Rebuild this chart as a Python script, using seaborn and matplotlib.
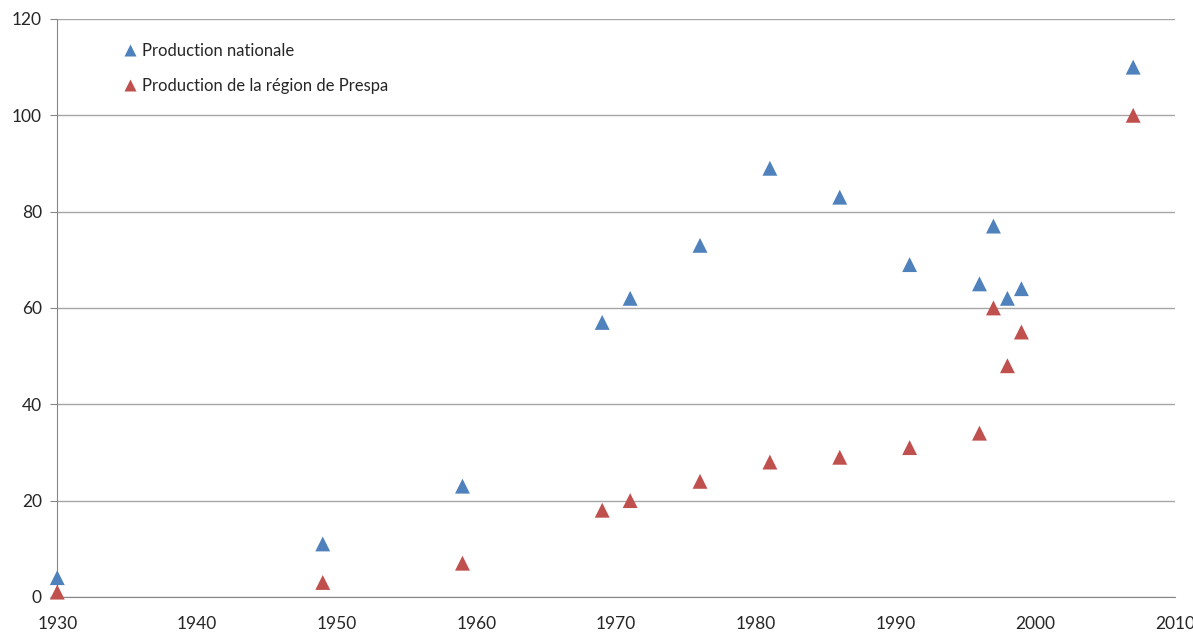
import pandas as pd
import matplotlib
matplotlib.use("Agg")
import matplotlib.pyplot as plt
import seaborn as sns

years = [1930, 1949, 1959, 1969, 1971, 1976, 1981, 1986, 1991, 1996, 1997, 1998, 1999, 2007]
nationale = [4, 11, 23, 57, 62, 73, 89, 83, 69, 65, 77, 62, 64, 110]
prespa = [1, 3, 7, 18, 20, 24, 28, 29, 31, 34, 60, 48, 55, 100]
labels = ["Production nationale", "Production de la région de Prespa"]

df = pd.concat([
    pd.DataFrame({"annee": years, "valeur": nationale, "serie": labels[0]}),
    pd.DataFrame({"annee": years, "valeur": prespa, "serie": labels[1]}),
])

sns.set_style("white")
plt.rcParams["font.family"] = ["Lato", "DejaVu Sans"]

fig, ax = plt.subplots(figsize=(11.93, 6.33), dpi=100)
fig.subplots_adjust(left=0.048, right=0.985, top=0.97, bottom=0.057)

sns.scatterplot(data=df, x="annee", y="valeur", hue="serie",
                palette={labels[0]: "#4F81BD", labels[1]: "#C0504D"},
                marker="^", s=115, edgecolor="none", ax=ax, zorder=3)
for coll in ax.collections:
    coll.set_clip_on(False)

ax.set_xlim(1930, 2010)
ax.set_ylim(0, 120)
ax.set_xticks(range(1930, 2011, 10))
ax.set_yticks(range(0, 121, 20))
ax.yaxis.grid(True, color="#a6a6a6", linewidth=1)
ax.set_axisbelow(True)
ax.set_xlabel("")
ax.set_ylabel("")
for side in ["top", "right"]:
    ax.spines[side].set_visible(False)
for side in ["left", "bottom"]:
    ax.spines[side].set_color("#868686")
ax.tick_params(axis="x", direction="out", length=5, color="#868686", labelsize=12.5, pad=9)
ax.tick_params(axis="y", length=5, color="#868686", labelsize=12.5, left=True, pad=6)

leg = ax.legend(loc="upper left", bbox_to_anchor=(0.037, 0.985), frameon=False,
                fontsize=12, handletextpad=-0.3, labelspacing=1.15, markerscale=0.85)

plt.savefig("out.png", dpi=100)
plt.close()
